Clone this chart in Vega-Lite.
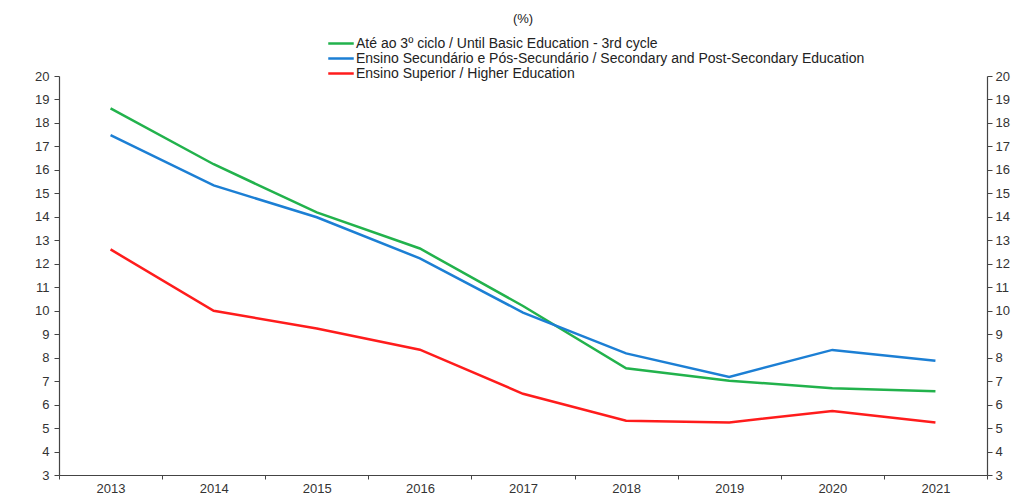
{
  "$schema": "https://vega.github.io/schema/vega-lite/v6.json",
  "autosize": {"type": "none"},
  "width": 928,
  "height": 399,
  "padding": {"left": 59, "top": 76, "right": 28, "bottom": 21},
  "background": "white",
  "title": {"text": "(%)", "fontSize": 13, "font": "Liberation Sans", "fontWeight": "normal", "color": "#222", "anchor": "middle", "offset": 10},
  "config": {
    "view": {"stroke": null},
    "font": "Liberation Sans"
  },
  "data": {"values": [
    {"year": "2013", "s": "Até ao 3º ciclo / Until Basic Education - 3rd cycle", "v": 18.62},
    {"year": "2014", "s": "Até ao 3º ciclo / Until Basic Education - 3rd cycle", "v": 16.24},
    {"year": "2015", "s": "Até ao 3º ciclo / Until Basic Education - 3rd cycle", "v": 14.19},
    {"year": "2016", "s": "Até ao 3º ciclo / Until Basic Education - 3rd cycle", "v": 12.65},
    {"year": "2017", "s": "Até ao 3º ciclo / Until Basic Education - 3rd cycle", "v": 10.2},
    {"year": "2018", "s": "Até ao 3º ciclo / Until Basic Education - 3rd cycle", "v": 7.55},
    {"year": "2019", "s": "Até ao 3º ciclo / Until Basic Education - 3rd cycle", "v": 7.02},
    {"year": "2020", "s": "Até ao 3º ciclo / Until Basic Education - 3rd cycle", "v": 6.7},
    {"year": "2021", "s": "Até ao 3º ciclo / Until Basic Education - 3rd cycle", "v": 6.57},
    {"year": "2013", "s": "Ensino Secundário e Pós-Secundário / Secondary and Post-Secondary Education", "v": 17.48},
    {"year": "2014", "s": "Ensino Secundário e Pós-Secundário / Secondary and Post-Secondary Education", "v": 15.34},
    {"year": "2015", "s": "Ensino Secundário e Pós-Secundário / Secondary and Post-Secondary Education", "v": 13.98},
    {"year": "2016", "s": "Ensino Secundário e Pós-Secundário / Secondary and Post-Secondary Education", "v": 12.23},
    {"year": "2017", "s": "Ensino Secundário e Pós-Secundário / Secondary and Post-Secondary Education", "v": 9.92},
    {"year": "2018", "s": "Ensino Secundário e Pós-Secundário / Secondary and Post-Secondary Education", "v": 8.18},
    {"year": "2019", "s": "Ensino Secundário e Pós-Secundário / Secondary and Post-Secondary Education", "v": 7.18},
    {"year": "2020", "s": "Ensino Secundário e Pós-Secundário / Secondary and Post-Secondary Education", "v": 8.33},
    {"year": "2021", "s": "Ensino Secundário e Pós-Secundário / Secondary and Post-Secondary Education", "v": 7.87},
    {"year": "2013", "s": "Ensino Superior / Higher Education", "v": 12.61},
    {"year": "2014", "s": "Ensino Superior / Higher Education", "v": 10.0},
    {"year": "2015", "s": "Ensino Superior / Higher Education", "v": 9.24},
    {"year": "2016", "s": "Ensino Superior / Higher Education", "v": 8.34},
    {"year": "2017", "s": "Ensino Superior / Higher Education", "v": 6.46},
    {"year": "2018", "s": "Ensino Superior / Higher Education", "v": 5.31},
    {"year": "2019", "s": "Ensino Superior / Higher Education", "v": 5.24},
    {"year": "2020", "s": "Ensino Superior / Higher Education", "v": 5.73},
    {"year": "2021", "s": "Ensino Superior / Higher Education", "v": 5.24}
  ]},
  "encoding": {
    "x": {"field": "year", "type": "ordinal", "scale": {"type": "band", "paddingInner": 0, "paddingOuter": 0},
      "axis": {"title": null, "labelAngle": 0, "tickBand": "extent", "domainColor": "#444", "tickColor": "#444", "tickSize": 4, "labelFontSize": 13, "labelColor": "#333", "labelPadding": 3, "domainWidth": 1.2}}
  },
  "layer": [
    {
      "mark": {"type": "line", "strokeWidth": 2.5},
      "encoding": {
        "y": {"field": "v", "type": "quantitative", "scale": {"domain": [3, 20], "nice": false}, "axis": {"title": null, "values": [3,4,5,6,7,8,9,10,11,12,13,14,15,16,17,18,19,20], "grid": false, "domainColor": "#444", "tickColor": "#444", "tickSize": 5, "labelFontSize": 13, "labelColor": "#333", "labelPadding": 5, "domainWidth": 1.2}},
        "color": {"field": "s", "type": "nominal", "sort": null,
          "scale": {"domain": ["Até ao 3º ciclo / Until Basic Education - 3rd cycle", "Ensino Secundário e Pós-Secundário / Secondary and Post-Secondary Education", "Ensino Superior / Higher Education"], "range": ["#22b24c", "#1c7fd4", "#ff1c1c"]},
          "legend": {"title": null, "orient": "none", "legendX": 268, "legendY": -40, "direction": "vertical", "symbolType": "stroke", "symbolSize": 650, "symbolStrokeWidth": 2.5, "labelFontSize": 14, "labelColor": "#222", "rowPadding": 0, "labelOffset": 1, "labelLimit": 0, "clipHeight": 15}}
      }
    },
    {
      "mark": {"type": "line", "opacity": 0},
      "encoding": {
        "y": {"field": "v", "type": "quantitative", "scale": {"domain": [3, 20], "nice": false}, "axis": {"orient": "right", "title": null, "values": [3,4,5,6,7,8,9,10,11,12,13,14,15,16,17,18,19,20], "grid": false, "domainColor": "#444", "tickColor": "#444", "tickSize": 5, "labelFontSize": 13, "labelColor": "#333", "labelPadding": 3, "domainWidth": 1.2}},
        "detail": {"field": "s"}
      }
    }
  ],
  "resolve": {"scale": {"y": "independent"}}
}
